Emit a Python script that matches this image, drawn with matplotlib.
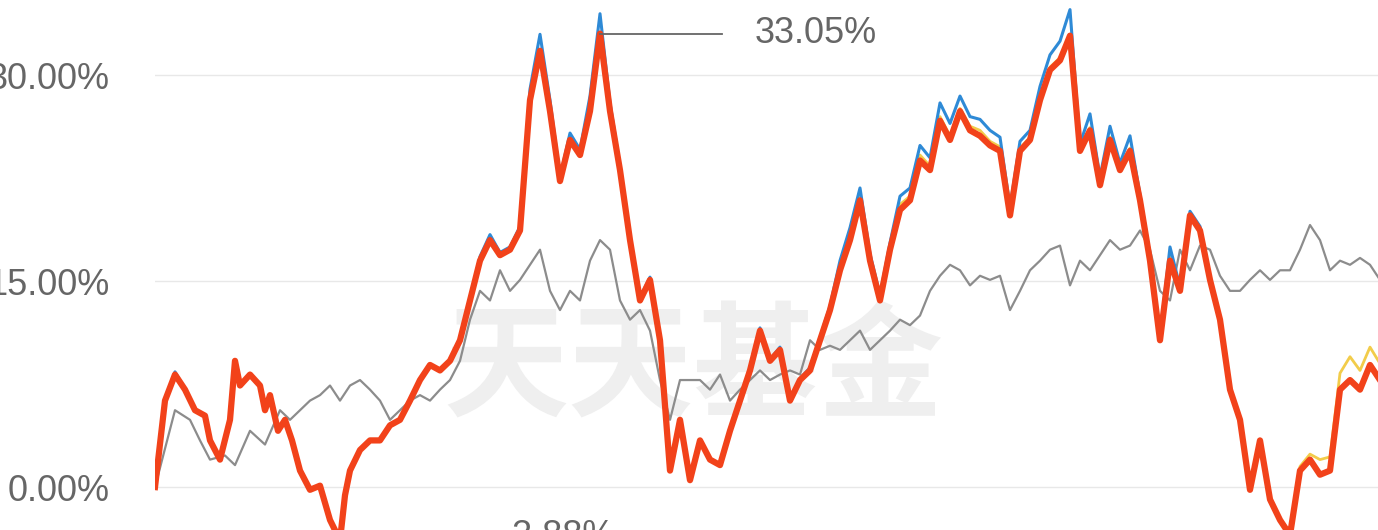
import matplotlib
matplotlib.use("Agg")
import matplotlib.pyplot as plt

# trading-day index for each sample
days = [0, 2, 4, 6, 8, 10, 11, 13, 15, 16, 17, 19, 21, 22, 23, 24.6, 26, 27.4, 29, 31, 33, 35, 37, 38, 39,
        41, 43, 45, 47, 49, 51, 53, 55, 57, 59, 61, 63, 65, 67, 69, 71, 73, 75, 77, 79, 81, 83, 85, 87, 89,
        91, 93, 95, 97, 99, 101, 103, 105, 107, 109, 111, 113, 115, 117, 119, 121, 123, 125, 127, 129, 131,
        133, 135, 137, 139, 141, 143, 145, 147, 149, 151, 153, 155, 157, 159, 161, 163, 165, 167, 169, 171,
        173, 175, 177, 179, 181, 183, 185, 187, 189, 191, 193, 195, 197, 199, 201, 203, 205, 207, 209, 211,
        213, 215, 217, 219, 221, 223, 225, 227, 229, 231, 233, 235, 237, 239, 241, 243, 245]

fund = [0, 6.3, 8.2, 7.1, 5.6, 5.2, 3.4, 2.0, 4.9, 9.2, 7.4, 8.2, 7.4, 5.6, 6.7, 4.1, 4.9, 3.4, 1.2, -0.2,
        0.1, -2.4, -3.88, -0.6, 1.2, 2.7, 3.4, 3.4, 4.5, 4.9, 6.3, 7.8, 8.9, 8.5, 9.2, 10.7, 13.6, 16.5, 18.0,
        16.9, 17.3, 18.7, 28.2, 31.8, 27.4, 22.3, 25.3, 24.2, 27.4, 33.05, 27.4, 23.1, 18.0, 13.6, 15.1, 10.7,
        1.2, 4.9, 0.5, 3.4, 2.0, 1.6, 4.1, 6.3, 8.5, 11.4, 9.2, 10.0, 6.3, 7.8, 8.5, 10.7, 12.9, 15.8, 18.0,
        20.9, 16.5, 13.6, 17.3, 20.2, 20.9, 23.8, 23.1, 26.7, 25.3, 27.4, 26.0, 25.6, 24.9, 24.5, 19.8, 24.5,
        25.3, 28.2, 30.4, 31.1, 32.9, 24.5, 26.0, 22.0, 25.3, 23.1, 24.5, 20.9, 16.5, 10.7, 16.5, 14.3, 19.8,
        18.7, 15.1, 12.2, 7.1, 4.9, -0.2, 3.4, -0.9, -2.4, -3.5, 1.2, 2.0, 0.9, 1.2, 7.1, 7.8, 7.1, 8.9, 7.8]

fund_b = [0, 6.3, 8.4, 7.1, 5.6, 5.2, 3.4, 2.0, 4.9, 9.2, 7.4, 8.2, 7.4, 5.6, 6.7, 4.1, 4.9, 3.4, 1.2, -0.2,
          0.1, -2.4, -3.88, -0.6, 1.2, 2.7, 3.4, 3.4, 4.5, 4.9, 6.3, 7.8, 8.9, 8.5, 9.2, 10.7, 13.6, 16.8, 18.4,
          17.1, 17.5, 19.0, 29.0, 33.0, 28.2, 22.6, 25.8, 24.6, 28.5, 34.5, 28.0, 23.4, 18.2, 13.8, 15.3, 10.9,
          1.2, 4.9, 0.5, 3.4, 2.0, 1.6, 4.1, 6.3, 8.5, 11.6, 9.3, 10.2, 6.4, 7.9, 8.7, 10.9, 13.2, 16.5, 18.9,
          21.8, 17.0, 14.0, 17.8, 21.2, 21.8, 24.9, 24.0, 28.0, 26.5, 28.5, 27.0, 26.8, 26.0, 25.5, 20.4, 25.2,
          26.0, 29.2, 31.5, 32.5, 34.8, 25.0, 27.2, 22.6, 26.3, 23.6, 25.6, 21.3, 16.9, 11.0, 17.5, 14.6, 20.1,
          19.0, 15.3, 12.3, 7.1, 4.9, -0.2, 3.4, -0.9, -2.4, -3.5, 1.2, 2.0, 0.9, 1.2, 7.1, 7.8, 7.1, 8.9, 7.8]

fund_y = [0, 6.3, 8.2, 7.1, 5.6, 5.2, 3.4, 2.0, 4.9, 9.2, 7.4, 8.2, 7.4, 5.6, 6.7, 4.1, 4.9, 3.4, 1.2, -0.2,
          0.1, -2.4, -3.88, -0.6, 1.2, 2.7, 3.4, 3.4, 4.5, 4.9, 6.3, 7.8, 8.9, 8.5, 9.2, 10.7, 13.6, 16.5, 18.0,
          16.9, 17.3, 18.7, 28.2, 31.8, 27.4, 22.3, 25.3, 24.2, 27.4, 33.05, 27.4, 23.1, 18.0, 13.6, 15.1, 10.7,
          1.2, 4.9, 0.5, 3.4, 2.0, 1.6, 4.1, 6.3, 8.5, 11.4, 9.2, 10.0, 6.3, 7.8, 8.5, 10.7, 12.9, 15.8, 18.0,
          21.3, 16.8, 13.8, 17.5, 20.6, 21.2, 24.2, 23.4, 27.0, 25.6, 27.6, 26.3, 26.0, 25.2, 24.8, 20.0, 24.7,
          25.5, 28.4, 30.6, 31.3, 33.0, 24.7, 26.2, 22.2, 25.5, 23.3, 24.7, 21.0, 16.6, 10.8, 16.8, 14.4, 19.9,
          18.8, 15.2, 12.2, 7.1, 4.9, -0.2, 3.4, -0.9, -2.4, -3.4, 1.5, 2.4, 2.0, 2.2, 8.3, 9.5, 8.5, 10.2, 9.0]

index_days = [0, 4, 7, 9, 11, 14, 16, 19, 22, 25, 27, 29, 31, 33, 35, 37, 39, 41, 43, 45, 47, 49, 51, 53, 55,
              57, 59, 61, 63, 65, 67, 69, 71, 73, 75, 77, 79, 81, 83, 85, 87, 89, 91, 93, 95, 97, 99, 101, 103,
              105, 107, 109, 111, 113, 115, 117, 119, 121, 123, 125, 127, 129, 131, 133, 135, 137, 139, 141,
              143, 145, 147, 149, 151, 153, 155, 157, 159, 161, 163, 165, 167, 169, 171, 173, 175, 177, 179,
              181, 183, 185, 187, 189, 191, 193, 195, 197, 199, 201, 203, 205, 207, 209, 211, 213, 215, 217,
              219, 221, 223, 225, 227, 229, 231, 233, 235, 237, 239, 241, 243, 245]
index_vals = [0, 5.6, 4.9, 3.4, 2.0, 2.3, 1.6, 4.1, 3.1, 5.6, 4.9, 5.6, 6.3, 6.7, 7.4, 6.3, 7.4, 7.8, 7.1,
              6.3, 4.9, 5.6, 6.3, 6.7, 6.3, 7.1, 7.8, 9.2, 12.2, 14.3, 13.6, 15.8, 14.3, 15.1, 16.2, 17.3,
              14.3, 12.9, 14.3, 13.6, 16.5, 18.0, 17.3, 13.6, 12.2, 12.9, 11.4, 7.8, 4.9, 7.8, 7.8, 7.8, 7.1,
              8.2, 6.3, 7.1, 7.8, 8.5, 7.8, 8.2, 8.5, 8.2, 10.7, 10.0, 10.3, 10.0, 10.7, 11.4, 10.0, 10.7,
              11.4, 12.2, 11.8, 12.5, 14.3, 15.4, 16.2, 15.8, 14.7, 15.4, 15.1, 15.4, 12.9, 14.3, 15.8, 16.5,
              17.3, 17.6, 14.7, 16.5, 15.8, 16.9, 18.0, 17.3, 17.6, 18.7, 17.3, 14.3, 13.6, 17.3, 15.8, 17.6,
              17.3, 15.4, 14.3, 14.3, 15.1, 15.8, 15.1, 15.8, 15.8, 17.3, 19.1, 18.0, 15.8, 16.5, 16.2, 16.7,
              16.2, 15.1]

yticks = [0, 15, 30]
ytick_labels = ["0.00%", "15.00%", "30.00%"]

plt.rcParams['font.family'] = ['Liberation Sans', 'DejaVu Sans']

fig = plt.figure(figsize=(13.78, 5.3), dpi=100)
ax = fig.add_axes([155 / 1378, 0, 1 - 155 / 1378, 1])

ax.text(0.44, 0.30, "天天基金", transform=ax.transAxes, ha="center", va="center",
        fontsize=90, fontweight="bold", color="#efefef", family=["Noto Sans CJK SC", "DejaVu Sans"], zorder=0)

ax.plot(index_days, index_vals, color="#8c8c8c", lw=1.6, zorder=2)
ax.plot(days, fund_y, color="#f2cc4a", lw=2, zorder=3)
ax.plot(days, fund_b, color="#2e8ad6", lw=2.2, zorder=4)
ax.plot(days, fund, color="#f2421a", lw=4.5, zorder=5)

ax.set_xlim(0, 244.6)
ax.set_ylim(-3.13, 35.5)
ax.set_yticks(yticks)
ax.set_yticklabels(ytick_labels, fontsize=26, color="#666666")
ax.set_xticks([])
ax.tick_params(axis="y", length=0, pad=33)
for s in ax.spines.values():
    s.set_visible(False)
ax.grid(axis="y", color="#e8e8e8", lw=1)
ax.set_axisbelow(True)

ax.plot([89, 113.4], [33.05, 33.05], color="#666666", lw=1.3, zorder=6)
ax.text(120, 33.05, "33.05%", fontsize=26, color="#666666", va="center")
ax.text(69, -3.6, "-3.88%", fontsize=26, color="#666666", va="center")

fig.savefig("out.png", dpi=100)
